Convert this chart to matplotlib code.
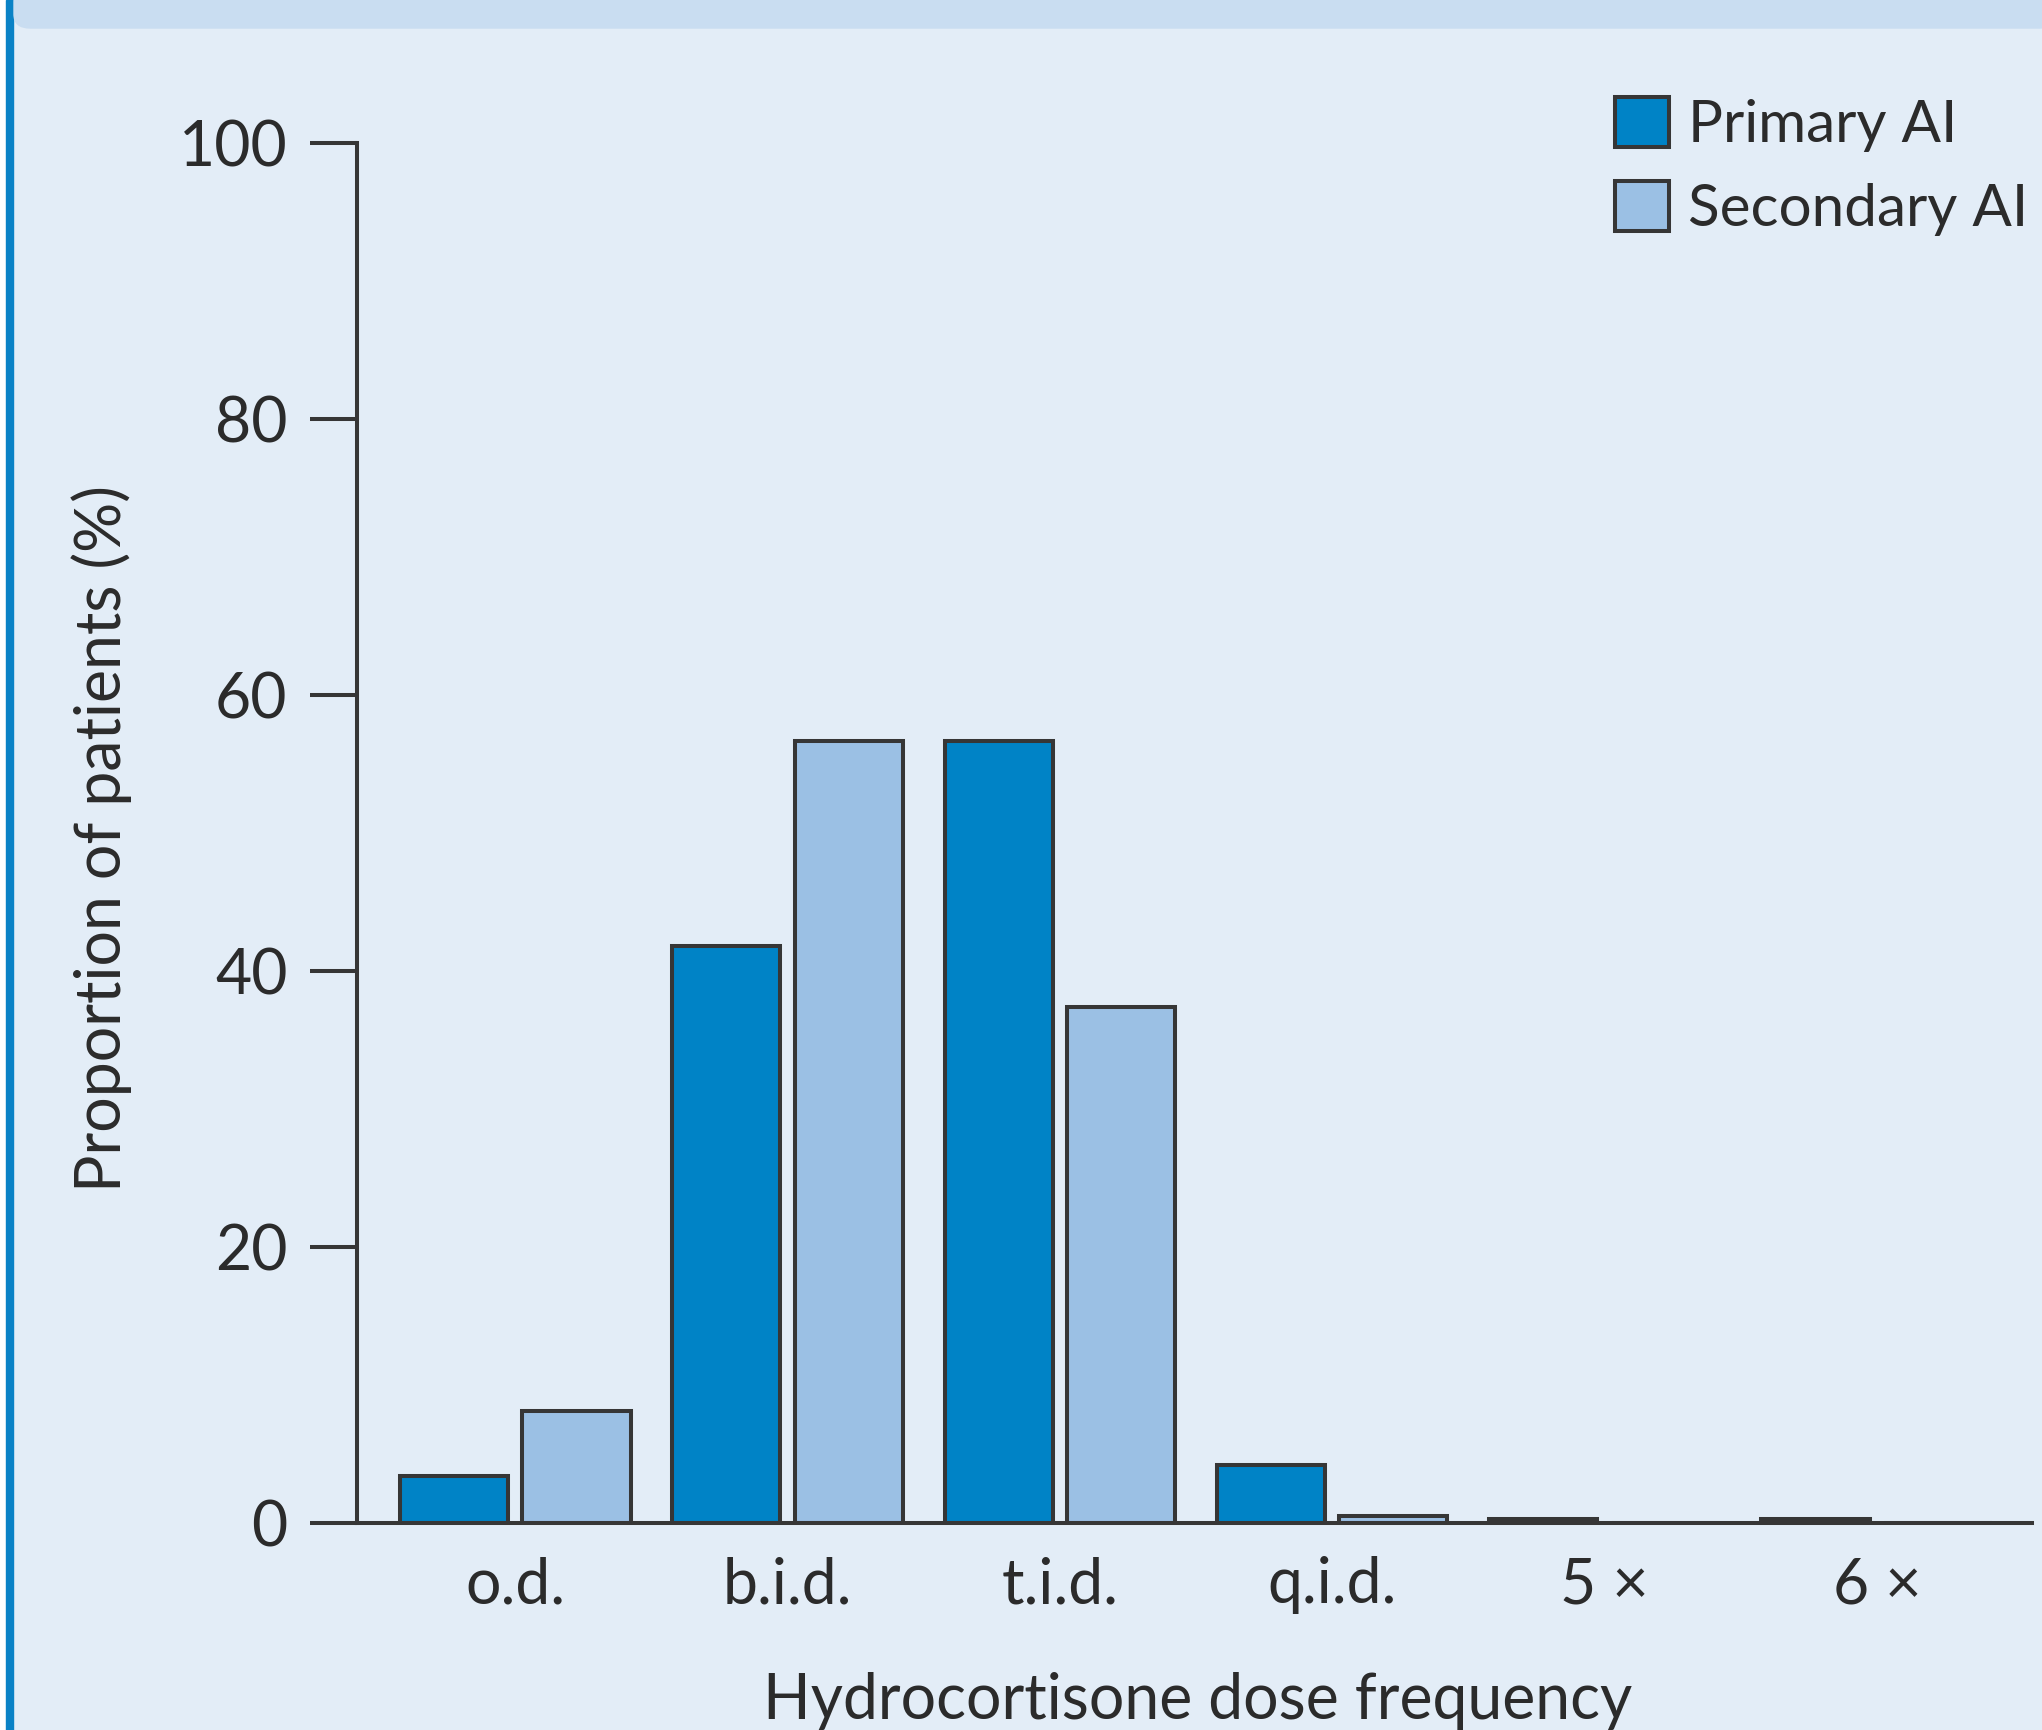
import numpy as np
import matplotlib
matplotlib.use("Agg")
from matplotlib import pyplot as plt
from matplotlib.patches import Rectangle, FancyBboxPatch

# data
categories = ['o.d.', 'b.i.d.', 't.i.d.', 'q.i.d.', '5 \u00d7', '6 \u00d7']
primary_ai = [3.4, 41.8, 56.7, 4.2, 0.3, 0.3]
secondary_ai = [8.1, 56.7, 37.4, 0.5, 0.0, 0.0]
yticks = [0, 20, 40, 60, 80, 100]

W, H = 2042, 1730
bg = '#E3EDF7'
band = '#C9DDF1'
c_prim = '#0083C6'
c_sec = '#9BC0E4'
edge = '#363636'
txt = '#2b2b2b'

plt.rcParams['font.family'] = ['Lato', 'DejaVu Sans']

fig = plt.figure(figsize=(W/100, H/100), dpi=100, facecolor=bg)

# frame decorations: blue rule on the left, darker band at the top
fig.patches.append(Rectangle((0, 0), 6/W, 1, transform=fig.transFigure, color='white', zorder=0))
fig.patches.append(Rectangle((6/W, 0), 7/W, 1, transform=fig.transFigure, color='#0A82C6', zorder=0))
fig.patches.append(FancyBboxPatch((14/W, 1-28/H), 1.0, 40/H, transform=fig.transFigure,
                                  boxstyle='round,pad=0,rounding_size=0.008', color=band, zorder=0))

ax = fig.add_axes([357/W, 1-1523/H, (2032-357)/W, (1523-143)/H])
ax.set_facecolor('none')

x = np.arange(len(categories))
bw = 0.397
off = 0.225
lw = 2.9
b1 = ax.bar(x-off, primary_ai, bw, color=c_prim, edgecolor=edge, linewidth=lw, label='Primary AI', zorder=2)
b2 = ax.bar(x+off, secondary_ai, bw, color=c_sec, edgecolor=edge, linewidth=lw, label='Secondary AI', zorder=2)

ax.set_xlim(-0.581, 5.57)
ax.set_ylim(0, 100)
ax.set_yticks(yticks)
ax.set_yticklabels([str(v) for v in yticks])
ax.set_xticks(x)
ax.set_xticklabels(categories)

for s in ['top', 'right']:
    ax.spines[s].set_visible(False)
for s in ['left', 'bottom']:
    ax.spines[s].set_color(edge)
    ax.spines[s].set_linewidth(lw)
    ax.spines[s].set_zorder(3)

ax.tick_params(axis='y', length=34, width=lw, color=edge, pad=16, labelsize=45, labelcolor=txt)
ax.tick_params(axis='x', length=0, pad=24, labelsize=45, labelcolor=txt)

fig.text(1198/W, 1-1719/H, 'Hydrocortisone dose frequency', ha='center', va='baseline',
         fontsize=45, color=txt)
fig.text(102/W, 1-838/H, 'Proportion of patients (%)', ha='center', va='center',
         rotation=90, fontsize=45, color=txt)

leg = ax.legend(handles=[b1, b2], loc='upper left', bbox_to_anchor=(1615/W, 1-97/H),
                bbox_transform=fig.transFigure, frameon=False, fontsize=42,
                handlelength=0.93, handleheight=0.93, handletextpad=0.33,
                labelspacing=0.5, borderpad=0, borderaxespad=0)
for t in leg.get_texts():
    t.set_color(txt)

fig.savefig('out.png', dpi=100, facecolor=bg)
